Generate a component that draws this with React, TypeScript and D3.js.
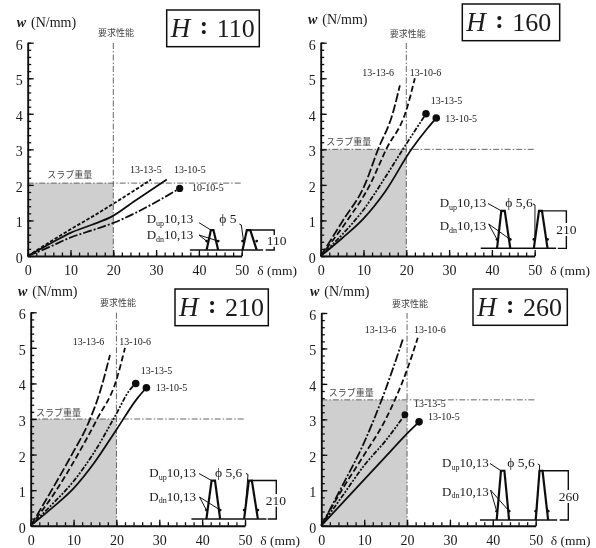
import React, { useEffect, useRef } from "react";
import * as d3 from "d3";

const SERIF = "'Liberation Serif', serif";
const CJK = "'Noto Sans CJK JP', sans-serif";

type Pt = [number, number];

// load-deflection curves as [delta mm, w N/mm]
const h110_13_13_5: Pt[] = [[0, 0], [5, 0.38], [10, 0.75], [15, 1.1], [20, 1.47], [25, 1.85], [28.8, 2.15]];
const h110_13_10_5: Pt[] = [[0, 0], [5, 0.33], [10, 0.65], [15, 0.88], [19.5, 1.1], [25, 1.55], [32.5, 2.15]];
const h110_10_10_5: Pt[] = [[0, 0], [5, 0.25], [10, 0.52], [15, 0.72], [20, 0.93], [25, 1.2], [30, 1.52], [35.5, 1.9]];

const h160_13_13_6: Pt[] = [[0, 0], [5.2, 1.0], [10.3, 2.0], [13.4, 3.0], [16.8, 4.0], [18.5, 4.8]];
const h160_13_10_6: Pt[] = [[0, 0], [6.2, 1.0], [11.5, 2.0], [15.3, 3.0], [20, 4.1], [22, 5.0]];
const h160_13_13_5: Pt[] = [[0, 0], [5, 0.6], [10, 1.3], [15, 2.2], [19.2, 3.0], [24.6, 4.0]];
const h160_13_10_5: Pt[] = [[0, 0], [5, 0.5], [10, 1.05], [15, 1.8], [21.2, 3.0], [25, 3.6], [27, 3.88]];

const h210_13_13_6: Pt[] = [[0, 0], [4.9, 1.0], [9.6, 2.0], [13.5, 2.9], [16, 3.7], [18.5, 4.8]];
const h210_13_10_6: Pt[] = [[0, 0], [6, 1.0], [11, 2.0], [15.5, 3.0], [20, 4.1], [22, 5.0]];
const h210_13_13_5: Pt[] = [[0, 0], [5, 0.6], [10, 1.25], [15, 2.1], [20, 3.15], [23, 3.8], [24.5, 4.0]];
const h210_13_10_5: Pt[] = [[0, 0], [5, 0.5], [10, 1.05], [15, 1.8], [20, 2.7], [25, 3.6], [27, 3.88]];

const h260_13_13_6: Pt[] = [[0, 0], [5, 1.15], [10, 2.35], [15, 3.85], [19, 5.25]];
const h260_13_10_6: Pt[] = [[0, 0], [5, 1.05], [10, 2.0], [15, 3.0], [20, 4.4], [22.5, 5.3]];
const h260_13_13_5: Pt[] = [[0, 0], [5, 0.85], [10, 1.7], [15, 2.4], [19.5, 3.13]];
const h260_13_10_5: Pt[] = [[0, 0], [5, 0.65], [10, 1.3], [15, 1.95], [20, 2.6], [22.8, 2.93]];

const xTicks = [0, 10, 20, 30, 40, 50];
const yTicks = [0, 1, 2, 3, 4, 5, 6];
const xMinor = d3.range(0, 51, 2);
const yMinor = d3.range(0, 6.01, 0.2);
const requiredDelta = 20;

const DASH: Record<string, string> = {
  solid: "none",
  long: "9 2.5",
  medium: "6 3",
  short: "3.5 1.8",
  dashdot: "9 2 2 2",
  dotdash: "2 1.5 2 1.5 5 1.5",
};

type Curve = { pts: Pt[]; dash: string; dot?: number };
type Label = { text: string; x: number; y: number };

const panels = [
  {
    title: "110", x0: 27.7, x50: 241.7, y0: 256, y6: 42.7, slab: 2.05,
    curves: [
      { pts: h110_13_13_5, dash: "short" },
      { pts: h110_13_10_5, dash: "solid" },
      { pts: h110_10_10_5, dash: "dashdot", dot: 3.6 },
    ] as Curve[],
    labels: [
      { text: "13-13-5", x: 130, y: 172.7 },
      { text: "13-10-5", x: 174, y: 172.7 },
      { text: "10-10-5", x: 192, y: 190.7 },
    ] as Label[],
    box: [166.7, 10, 92.6, 36.7], wLabel: [16.7, 27], req: [98, 36], slabLabel: [47.3, 177.7],
    rib: { base: 0.17, top: 0.73, baseFrom: 37.9, baseTo: 55, r1: [41.8, 42.8, 43.4, 44.5], r2: [50.2, 51.2, 52, 53.5], dim: 57.6 },
    up: [146.7, 223.3], dn: [146.7, 239.3], phi: [219.3, 222.7], phiText: "ϕ 5", dimText: [266.7, 245],
    upEnd: [199, 222.7], dnEnd: [199, 235], phiEnd: [239.3, 224], gap: [0.42, 0.09],
  },
  {
    title: "160", x0: 320.7, x50: 534.7, y0: 256, y6: 42.7, slab: 3,
    curves: [
      { pts: h160_13_13_6, dash: "long" },
      { pts: h160_13_10_6, dash: "medium" },
      { pts: h160_13_13_5, dash: "dotdash", dot: 3.8 },
      { pts: h160_13_10_5, dash: "solid", dot: 3.8 },
    ] as Curve[],
    labels: [
      { text: "13-13-6", x: 362.3, y: 76 },
      { text: "13-10-6", x: 409.7, y: 76 },
      { text: "13-13-5", x: 430.7, y: 104 },
      { text: "13-10-5", x: 445.3, y: 121.7 },
    ] as Label[],
    box: [462.3, 4, 97.4, 36.7], wLabel: [308, 24], req: [389.7, 36.7], slabLabel: [326.3, 145],
    rib: { base: 0.215, top: 1.27, baseFrom: 37.4, baseTo: 55, r1: [41.2, 42.2, 43, 44.3], r2: [49.8, 51, 51.7, 53], dim: 57.4 },
    up: [439.7, 207.3], dn: [439.7, 230], phi: [505.3, 207.3], phiText: "ϕ 5,6", dimText: [556.3, 234],
    upEnd: [488, 203.5], dnEnd: [488.7, 224], phiEnd: [533, 204], gap: [0.71, 0.35],
  },
  {
    title: "210", x0: 30.7, x50: 245, y0: 525.7, y6: 312.3, slab: 3,
    curves: [
      { pts: h210_13_13_6, dash: "long" },
      { pts: h210_13_10_6, dash: "medium" },
      { pts: h210_13_13_5, dash: "dotdash", dot: 3.8 },
      { pts: h210_13_10_5, dash: "solid", dot: 3.8 },
    ] as Curve[],
    labels: [
      { text: "13-13-6", x: 72.7, y: 345.3 },
      { text: "13-10-6", x: 119.3, y: 345.3 },
      { text: "13-13-5", x: 140.7, y: 374 },
      { text: "13-10-5", x: 155.7, y: 391.3 },
    ] as Label[],
    box: [175, 289, 93.3, 36.7], wLabel: [18, 295.7], req: [100, 306.3], slabLabel: [36, 415.7],
    rib: { base: 0.19, top: 1.27, baseFrom: 37.5, baseTo: 55, r1: [41, 42.2, 43, 44.2], r2: [49.8, 50.9, 51.6, 53], dim: 57.3 },
    up: [149.3, 477.3], dn: [149.3, 500.7], phi: [215, 477.3], phiText: "ϕ 5,6", dimText: [265.7, 505],
    upEnd: [199, 473.5], dnEnd: [199.5, 497], phiEnd: [246, 473.5], gap: [0.7, 0.34],
  },
  {
    title: "260", x0: 321.3, x50: 535.7, y0: 525.7, y6: 313, slab: 3.55,
    curves: [
      { pts: h260_13_13_6, dash: "dashdot" },
      { pts: h260_13_10_6, dash: "medium" },
      { pts: h260_13_13_5, dash: "dotdash", dot: 3.4 },
      { pts: h260_13_10_5, dash: "solid", dot: 3.8 },
    ] as Curve[],
    labels: [
      { text: "13-13-6", x: 364.7, y: 333.3 },
      { text: "13-10-6", x: 414, y: 333.3 },
      { text: "13-13-5", x: 414, y: 407.3 },
      { text: "13-10-5", x: 428, y: 419.7 },
    ] as Label[],
    box: [473, 289, 94.3, 36.3], wLabel: [310, 295.7], req: [392, 307.3], slabLabel: [328.7, 395.7],
    rib: { base: 0.16, top: 1.55, baseFrom: 37, baseTo: 55, r1: [40.9, 41.9, 42.7, 43.8], r2: [50, 50.9, 51.6, 52.9], dim: 57.6 },
    up: [442, 467.3], dn: [442, 495.7], phi: [507.3, 467.3], phiText: "ϕ 5,6", dimText: [558.7, 501.3],
    upEnd: [490, 463.5], dnEnd: [490.5, 490], phiEnd: [537.7, 464], gap: [0.85, 0.48],
  },
];

type Panel = (typeof panels)[number];

function drawPanel(svg: d3.Selection<any, unknown, null, undefined>, p: Panel) {
  const x = d3.scaleLinear().domain([0, 50]).range([p.x0, p.x50]);
  const y = d3.scaleLinear().domain([0, 6]).range([p.y0, p.y6]);
  const g = svg.append("g").attr("filter", "url(#soft)");

  // slab weight box up to the required deflection
  g.append("rect")
    .attr("x", x(0))
    .attr("y", y(p.slab))
    .attr("width", x(requiredDelta) - x(0))
    .attr("height", y(0) - y(p.slab))
    .attr("fill", "#cfcfcf");

  const ref = "6 2 1.5 2";
  g.append("line").attr("x1", x(0)).attr("x2", x(50)).attr("y1", y(p.slab)).attr("y2", y(p.slab))
    .attr("stroke", "#555").attr("stroke-width", 0.9).attr("stroke-dasharray", ref);
  g.append("line").attr("x1", x(requiredDelta)).attr("x2", x(requiredDelta)).attr("y1", y(0)).attr("y2", y(6))
    .attr("stroke", "#555").attr("stroke-width", 0.9).attr("stroke-dasharray", ref);

  const line = d3.line<Pt>().x(d => x(d[0])).y(d => y(d[1])).curve(d3.curveMonotoneX);
  p.curves.forEach(c => {
    g.append("path")
      .attr("d", line(c.pts))
      .attr("fill", "none")
      .attr("stroke", "#111")
      .attr("stroke-width", 1.8)
      .attr("stroke-dasharray", DASH[c.dash]);
    if (c.dot) {
      const last = c.pts[c.pts.length - 1];
      g.append("circle").attr("cx", x(last[0])).attr("cy", y(last[1])).attr("r", c.dot).attr("fill", "#111");
    }
  });

  // axes: long ticks with labels, then the short ones
  const xAxis = g.append("g").attr("transform", `translate(0,${p.y0})`)
    .call(d3.axisBottom(x).tickValues(xTicks).tickSizeInner(-6).tickSizeOuter(0).tickPadding(9.4).tickFormat(d3.format("d")));
  g.append("g").attr("transform", `translate(0,${p.y0})`)
    .call(d3.axisBottom(x).tickValues(xMinor).tickSize(-3.5).tickFormat(() => ""))
    .select(".domain").remove();
  const yAxis = g.append("g").attr("transform", `translate(${p.x0},0)`)
    .call(d3.axisLeft(y).tickValues(yTicks).tickSizeInner(-6).tickSizeOuter(0).tickPadding(5).tickFormat(d3.format("d")));
  g.append("g").attr("transform", `translate(${p.x0},0)`)
    .call(d3.axisLeft(y).tickValues(yMinor).tickSize(-3.5).tickFormat(() => ""))
    .select(".domain").remove();
  [xAxis, yAxis].forEach(a => {
    a.attr("font-family", SERIF).attr("font-size", 14);
    a.select(".domain").attr("stroke", "#111").attr("stroke-width", 1.9);
    a.selectAll("text").attr("fill", "#1a1a1a");
  });
  yAxis.selectAll("text").attr("dy", "0.46em");
  g.selectAll(".tick line").attr("stroke", "#111").attr("stroke-width", 1.3);

  const text = (tx: number, ty: number, s: string, size: number, font = SERIF, fill = "#1a1a1a") =>
    g.append("text").attr("x", tx).attr("y", ty).attr("font-family", font).attr("font-size", size).attr("fill", fill).text(s);

  // axis captions
  const w = text(p.wLabel[0], p.wLabel[1], "", 14);
  w.append("tspan").attr("font-style", "italic").attr("font-weight", "bold").text("w");
  w.append("tspan").attr("dx", 5).text("(N/mm)");
  text(p.x0 + 229.5, p.y0 + 19, "δ (mm)", 13.5);

  text(p.req[0], p.req[1], "要求性能", 9, CJK, "#444");
  text(p.slabLabel[0], p.slabLabel[1], "スラブ重量", 9, CJK, "#444");
  p.labels.forEach(l => text(l.x, l.y, l.text, 10, SERIF, "#222"));

  // title box
  const [bx, by, bw, bh] = p.box;
  g.append("rect").attr("x", bx).attr("y", by).attr("width", bw).attr("height", bh)
    .attr("fill", "#fff").attr("stroke", "#111").attr("stroke-width", 1.5);
  text(bx + 4, by + 27, "H", 27).attr("font-style", "italic");
  text(bx + 33, by + 24, ":", 25).attr("font-weight", "bold");
  text(bx + 50, by + 27, p.title, 26);

  // section sketch at lower right, placed in chart units
  const r = p.rib;
  const ink = (d: string | null, width = 1.5) =>
    g.append("path").attr("d", d).attr("fill", "none").attr("stroke", "#111").attr("stroke-width", width);
  const pen = d3.line<Pt>().x(d => x(d[0])).y(d => y(d[1]));
  ink(pen([[r.baseFrom, r.base], [r.baseTo, r.base]]), 1.5);
  [r.r1, r.r2].forEach(t => {
    ink(pen([[t[0], r.base], [t[1], r.top], [t[2], r.top], [t[3], r.base]]), 2.2);
    [[t[0], 0.25], [t[3], 0.25]].forEach(([dx, dh]) =>
      g.append("circle").attr("cx", x(dx)).attr("cy", y(r.base + dh)).attr("r", 1.4).attr("fill", "#111"));
  });
  // dimension line, broken around its number
  ink(pen([[r.r2[2], r.top], [r.dim, r.top], [r.dim, r.base + p.gap[0]]]), 1.4);
  ink(pen([[r.dim, r.base + p.gap[1]], [r.dim, r.base], [r.dim - 2, r.base]]), 1.4);

  // leaders
  const thin = d3.line<Pt>();
  ink(thin([[p.upEnd[0], p.upEnd[1]], [x(r.r1[1]), y(r.top)]]), 1);
  ink(thin([[p.dnEnd[0], p.dnEnd[1]], [x(r.r1[0]), y(r.base + 0.25)]]), 1);
  ink(thin([[p.dnEnd[0], p.dnEnd[1]], [x(r.r1[3]), y(r.base + 0.25)]]), 1);
  ink(thin([[p.phiEnd[0], p.phiEnd[1]], [p.phiEnd[0] + 2, p.phiEnd[1] + 1], [x(r.r2[0]) + 1, y(r.base + 0.25)]]), 1);

  const dLabel = (pos: number[], sub: string) => {
    const t = text(pos[0], pos[1], "D", 13);
    t.append("tspan").attr("font-size", 8).attr("dy", 2.5).text(sub);
    t.append("tspan").attr("dy", -2.5).text("10,13");
  };
  dLabel(p.up, "up");
  dLabel(p.dn, "dn");
  text(p.phi[0], p.phi[1], p.phiText, 13.5);
  text(p.dimText[0], p.dimText[1], p.title === "160" ? "210" : p.title, 13.5);
}

export default function App() {
  const ref = useRef<SVGSVGElement>(null);

  useEffect(() => {
    const svg = d3.select(ref.current);
    svg.selectAll("*").remove();
    svg.append("defs").append("filter").attr("id", "soft")
      .append("feGaussianBlur").attr("stdDeviation", 0.35);
    panels.forEach(p => drawPanel(svg, p));
  }, []);

  return (
    <svg
      ref={ref}
      width={596}
      height={548}
      style={{ position: "absolute", left: 0, top: 0, background: "#fff" }}
    />
  );
}
